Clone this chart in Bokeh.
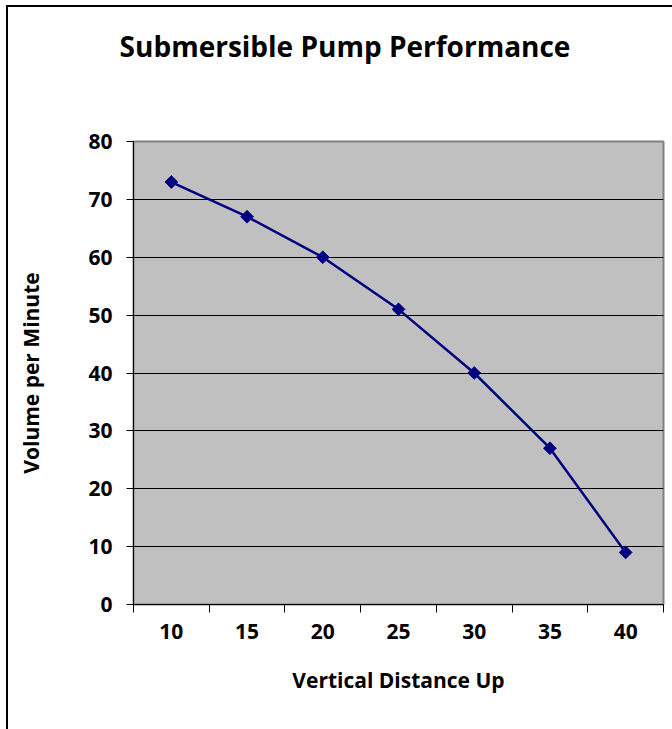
import numpy as np
from bokeh.plotting import figure
from bokeh.layouts import column
from bokeh.models import Range1d, FixedTicker, Div
from bokeh.embed import file_html
from bokeh.resources import INLINE

# ---- data ----
distances = [10, 15, 20, 25, 30, 35, 40]
volumes = [73, 67, 60, 51, 40, 27, 9]
y_ticks = [0, 10, 20, 30, 40, 50, 60, 70, 80]
title_text = "Submersible Pump Performance"
x_label = "Vertical Distance Up"
y_label = "Volume per Minute"

FONT = "Open Sans"
n = len(distances)
xs = list(range(1, n + 1))

OX, OY = 8, 7      # chart area origin inside the window (after border)
TH = 60            # height of the title strip

title = Div(text=title_text, width=672 - OX, height=TH, margin=0,
            styles={"font-family": FONT, "font-size": "28px", "font-weight": "bold",
                    "color": "black", "text-align": "center", "width": f"{672 - OX}px",
                    "padding-top": "20px", "padding-left": "10px",
                    "box-sizing": "border-box", "line-height": "1.36"})

p = figure(width=672 - OX, height=729 - OY - TH, output_backend="svg", toolbar_location=None,
           x_range=Range1d(0.5, n + 0.5), y_range=Range1d(0, 80),
           min_border_left=133 - OX, min_border_right=672 - 663, min_border_top=141 - OY - TH,
           min_border_bottom=729 - 604, background_fill_color="#C0C0C0",
           border_fill_color="white", margin=0)

p.outline_line_color = "#808080"
p.outline_line_width = 2

# grid
p.xgrid.visible = False
p.ygrid.ticker = FixedTicker(ticks=y_ticks[1:-1])
p.ygrid.grid_line_color = "black"
p.ygrid.grid_line_width = 1

# y axis
p.yaxis.ticker = FixedTicker(ticks=y_ticks)
p.yaxis.major_tick_out = 7
p.yaxis.major_tick_in = 0
p.yaxis.minor_tick_line_color = None
p.yaxis.axis_line_color = "black"
p.yaxis.major_tick_line_color = "black"
p.yaxis.major_label_standoff = 14
p.yaxis.axis_label = y_label
p.yaxis.axis_label_standoff = 40

# x axis
p.xaxis.ticker = FixedTicker(ticks=xs, minor_ticks=[i + 0.5 for i in range(0, n + 1)])
p.xaxis.major_label_overrides = {x: str(d) for x, d in zip(xs, distances)}
p.xaxis.major_tick_line_color = None
p.xaxis.major_tick_out = 8
p.xaxis.major_tick_in = 0
p.xaxis.minor_tick_out = 8
p.xaxis.minor_tick_in = 0
p.xaxis.minor_tick_line_color = "black"
p.xaxis.axis_line_color = "black"
p.xaxis.major_label_standoff = 11
p.xaxis.axis_label = x_label
p.xaxis.axis_label_standoff = 24

for ax in (p.xaxis[0], p.yaxis[0]):
    ax.major_label_text_font = FONT
    ax.major_label_text_font_size = "21px"
    ax.major_label_text_font_style = "bold"
    ax.major_label_text_color = "black"
    ax.axis_label_text_font = FONT
    ax.axis_label_text_font_size = "21px"
    ax.axis_label_text_font_style = "bold"
    ax.axis_label_text_color = "black"

p.line(xs, volumes, line_color="#000080", line_width=2.5)
p.scatter(xs, volumes, marker="square", angle=np.pi / 4, size=9,
          fill_color="#000080", line_color="#000080")

layout = column(title, p, spacing=0, margin=0)
layout.styles = {"margin-left": "6px", "margin-top": "5px",
                 "border-left": "2px solid black", "border-top": "2px solid black"}

open("out.html", "w").write(file_html(layout, INLINE))
